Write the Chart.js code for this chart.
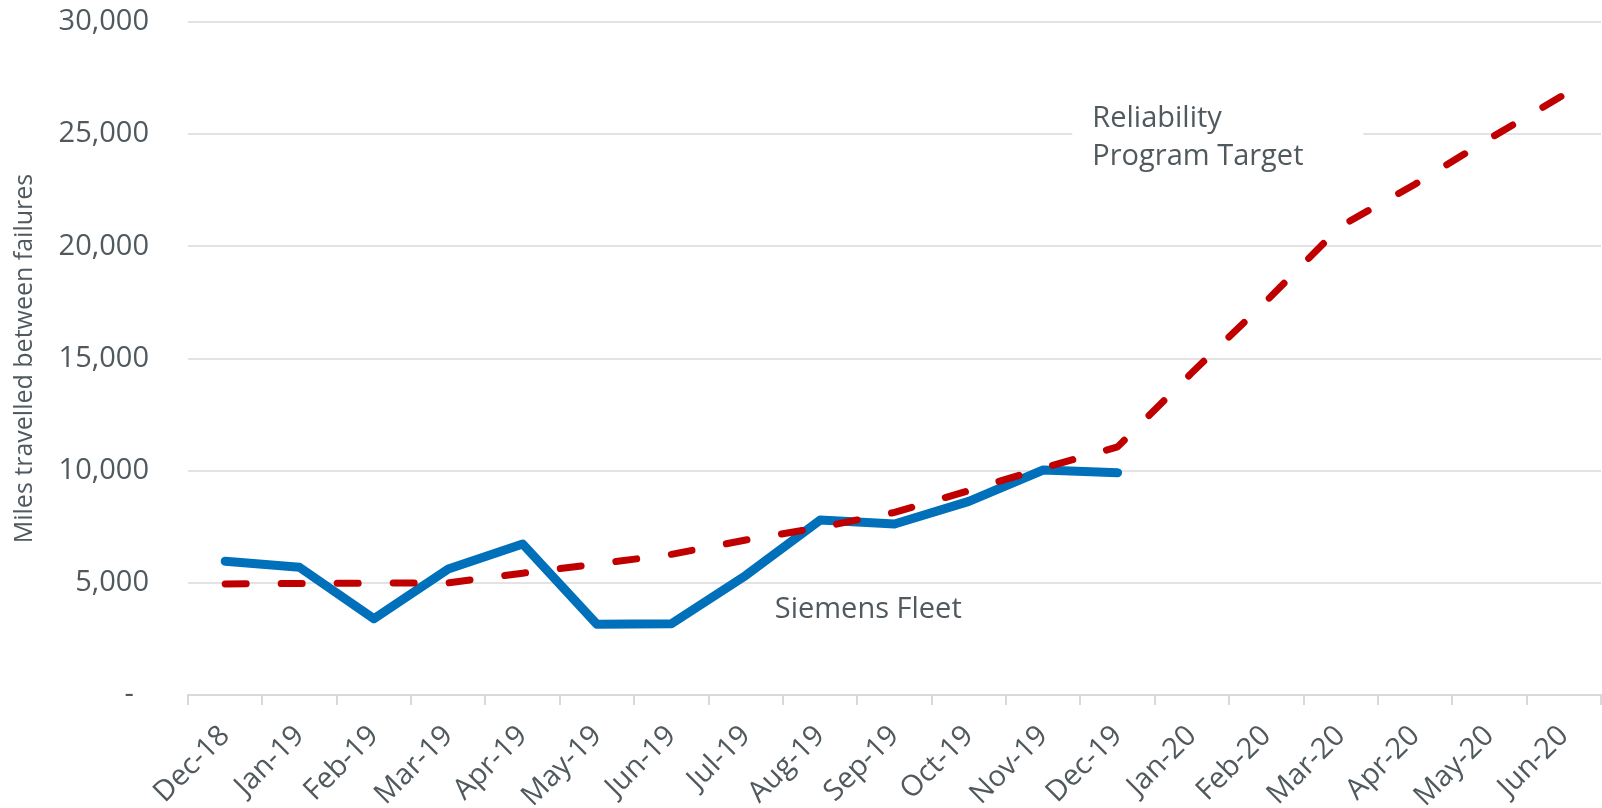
<!DOCTYPE html>
<html>
<head>
<meta charset="utf-8">
<script src="https://cdn.jsdelivr.net/npm/chart.js@4.4.1/dist/chart.umd.min.js"></script>
<style>
  html, body { margin: 0; padding: 0; background: #ffffff; }
  #wrap { width: 1602px; height: 808px; position: relative; }
</style>
</head>
<body>
<div id="wrap"><canvas id="c" width="1602" height="808"></canvas></div>
<script>
const categories = ['Dec-18','Jan-19','Feb-19','Mar-19','Apr-19','May-19','Jun-19','Jul-19','Aug-19','Sep-19','Oct-19','Nov-19','Dec-19','Jan-20','Feb-20','Mar-20','Apr-20','May-20','Jun-20'];
const siemensFleet = [5960, 5690, 3400, 5620, 6730, 3150, 3180, 5330, 7800, 7620, 8630, 10030, 9910, null, null, null, null, null, null];
const reliabilityTarget = [4950, 4970, 4990, 5000, 5430, 5840, 6270, 6910, 7470, 8140, 9110, 10120, 11060, 14370, 17560, 20900, 22770, 24800, 26750];
const yTicks = [0, 5000, 10000, 15000, 20000, 25000, 30000];
const yTitle = 'Miles travelled between failures';
// annotation anchors in data terms: [category position, value]
const labelFleet = { text: ['Siemens Fleet'], at: [7.39, 3800] };
const labelTarget = { text: ['Reliability', 'Program Target'], at: [11.66, 25700] };

const TEXT = '#50595e';
const FONT = '"Open Sans", "Noto Sans", sans-serif';

const annotations = {
  id: 'annotations',
  afterDatasetsDraw(chart) {
    const ctx = chart.ctx;
    const xs = chart.scales.x, ys = chart.scales.y;
    ctx.save();
    ctx.font = '29px ' + FONT;
    ctx.fillStyle = TEXT;
    ctx.textBaseline = 'middle';
    ctx.textAlign = 'left';
    {
      const x = xs.getPixelForValue(labelTarget.at[0]);
      const y = ys.getPixelForValue(labelTarget.at[1]);
      const step = 38;
      ctx.fillStyle = '#ffffff';
      ctx.fillRect(x - 20, y - 24, 291, step + 48);
      ctx.fillStyle = TEXT;
      labelTarget.text.forEach((t, i) => ctx.fillText(t, x, y + i * step));
    }
    {
      const x = xs.getPixelForValue(labelFleet.at[0]);
      const y = ys.getPixelForValue(labelFleet.at[1]);
      labelFleet.text.forEach((t, i) => ctx.fillText(t, x, y));
    }
    ctx.restore();
  }
};

new Chart(document.getElementById('c'), {
  type: 'line',
  data: {
    labels: categories,
    datasets: [
      {
        label: 'Reliability Program Target',
        data: reliabilityTarget,
        borderColor: '#c00000',
        borderWidth: 7,
        borderDash: [21, 35],
        borderCapStyle: 'round',
        borderJoinStyle: 'round',
        pointRadius: 0,
        tension: 0,
        fill: false
      },
      {
        label: 'Siemens Fleet',
        data: siemensFleet,
        borderColor: '#0070ba',
        borderWidth: 9,
        borderCapStyle: 'round',
        borderJoinStyle: 'round',
        pointRadius: 0,
        tension: 0,
        fill: false,
        spanGaps: false
      }
    ]
  },
  options: {
    responsive: false,
    animation: false,
    devicePixelRatio: 1,
    layout: { padding: { top: 22, right: 1, left: 0, bottom: 0 } },
    plugins: { legend: { display: false }, tooltip: { enabled: false } },
    scales: {
      x: {
        type: 'category',
        offset: true,
        afterFit(s) { s.height = 113; s.paddingLeft = 0; s.paddingRight = 0; s.paddingTop = 0; s.paddingBottom = 0; },
        grid: { display: true, drawOnChartArea: false, drawTicks: true, tickLength: 10, offset: true, color: '#d9d9d9', lineWidth: 2 },
        border: { display: true, color: '#d9d9d9', width: 2 },
        ticks: {
          color: TEXT, font: { family: FONT, size: 29 },
          minRotation: 45, maxRotation: 45, autoSkip: false, padding: 14
        }
      },
      y: {
        min: 0, max: 30000,
        afterFit(s) { s.width = 188; s.paddingTop = 0; s.paddingBottom = 0; s.paddingLeft = 0; s.paddingRight = 0; },
        afterBuildTicks(s) { s.ticks = yTicks.map(v => ({ value: v })); },
        grid: { color: '#e3e3e3', lineWidth: 2, drawTicks: false },
        border: { display: false },
        ticks: {
          color: TEXT, font: { family: FONT, size: 29 }, padding: 39,
          callback: v => v === 0 ? '-  ' : v.toLocaleString('en-US')
        },
        title: {
          display: true, text: yTitle, color: TEXT,
          font: { family: FONT, size: 25 }, padding: { top: 10, bottom: 0 }
        }
      }
    }
  },
  plugins: [annotations]
});
</script>
</body>
</html>
